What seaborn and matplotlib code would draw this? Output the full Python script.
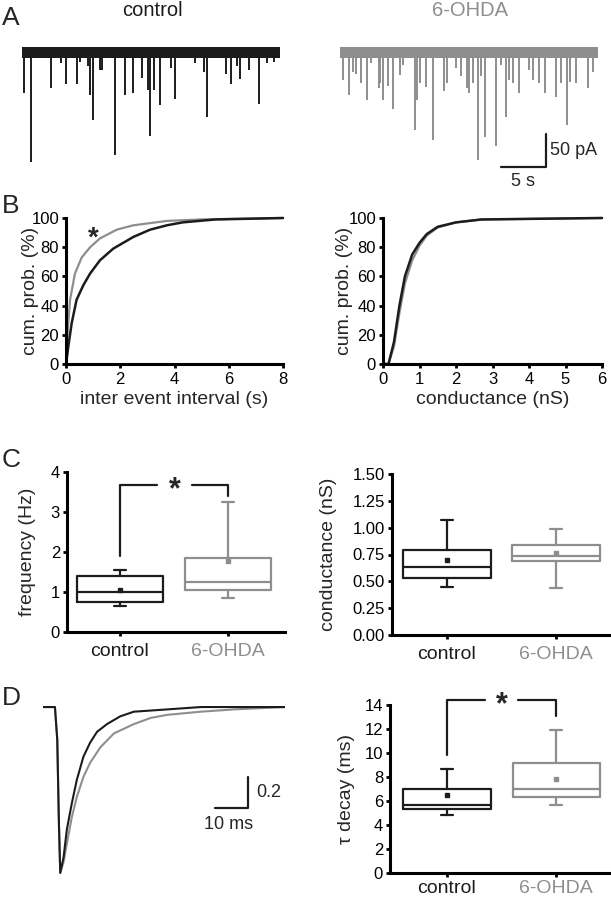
import matplotlib
matplotlib.use('Agg')
import matplotlib.pyplot as plt
import seaborn as sns

sns.set_style('ticks')
plt.rcParams['font.family'] = ['Liberation Sans', 'DejaVu Sans']

BLACK = '#1c1c1c'
GRAY = '#8e8e8e'
W, H = 611, 899

# A: example recordings, event times (s) and amplitudes (pA)
ctrl_times = [0.19, 1.04, 3.2, 4.3, 4.9, 6.1, 6.5, 7.3, 7.6, 7.9, 8.7, 8.9, 10.4, 11.5,
              12.3, 13.4, 14.0, 14.2, 14.7, 15.4, 16.6, 17.0, 19.3, 20.2, 20.6, 22.7,
              23.3, 23.9, 24.3, 25.2, 26.4, 27.2, 28.0]
ctrl_amps = [63, 167, 54, 17, 49, 48, 16, 22, 65, 103, 28, 28, 157, 65,
             63, 40, 58, 127, 58, 81, 25, 72, 17, 30, 99, 33,
             48, 22, 41, 28, 79, 17, 15]
ohda_times = [0.37, 1.04, 1.4, 1.8, 2.3, 3.0, 3.5, 4.3, 4.5, 4.8, 5.3, 5.9, 6.7, 7.0,
              8.3, 8.6, 8.9, 9.6, 10.3, 11.6, 11.9, 12.9, 13.5, 14.1, 14.4, 14.8, 15.3,
              15.7, 16.1, 17.3, 17.9, 18.5, 18.8, 19.3, 19.9, 21.0, 21.5, 22.1, 22.8,
              24.0, 24.6, 25.2, 25.6, 26.3, 27.6, 28.1]
ohda_amps = [43, 65, 30, 33, 47, 73, 17, 55, 47, 73, 52, 86, 35, 20,
             119, 73, 47, 53, 134, 59, 47, 25, 37, 55, 63, 47, 164,
             37, 129, 143, 20, 98, 42, 47, 63, 27, 42, 47, 63,
             68, 47, 111, 45, 47, 55, 30]
trace_len = 28.7   # s
noise = 9          # pA

# B: cumulative distributions
iei_ctrl_x = [0, 0.1, 0.21, 0.39, 0.64, 0.89, 1.25, 1.74, 2.48, 3.1, 3.72, 4.3, 5.5, 8.0]
iei_ctrl_y = [0, 14, 28, 44, 54, 62, 71, 79, 87, 92, 95, 97, 99, 100]
iei_ohda_x = [0, 0.05, 0.15, 0.33, 0.58, 0.89, 1.25, 1.87, 2.48, 3.72, 4.94, 8.0]
iei_ohda_y = [0, 20, 44, 62, 73, 80, 86, 92, 95, 98, 99, 100]
cond_ctrl_x = [0, 0.15, 0.3, 0.45, 0.6, 0.8, 1.0, 1.2, 1.5, 2.0, 2.7, 6.0]
cond_ctrl_y = [0, 0, 15, 40, 60, 75, 83, 89, 94, 97, 99, 100]
cond_ohda_x = [0, 0.15, 0.3, 0.45, 0.6, 0.8, 1.0, 1.2, 1.5, 2.0, 2.7, 6.0]
cond_ohda_y = [0, 0, 12, 35, 55, 71, 81, 88, 93.5, 97, 99, 100]

# C / D: box summaries [whislo, q1, med, q3, whishi, mean]
groups = ['control', '6-OHDA']
freq = [[0.66, 0.76, 1.0, 1.39, 1.55, 1.05], [0.84, 1.04, 1.24, 1.86, 3.25, 1.78]]
cond = [[0.45, 0.53, 0.63, 0.79, 1.07, 0.70], [0.44, 0.69, 0.74, 0.84, 0.99, 0.76]]
tau = [[4.8, 5.3, 5.7, 7.0, 8.7, 6.5], [5.7, 6.3, 7.0, 9.2, 11.9, 7.8]]

# D: averaged normalised events
avg_ctrl_t = [0, 3.6, 4.3, 4.8, 5.2, 6.2, 7.2, 8.7, 10.2, 12.2, 14.2, 16.3, 19.3, 23.3,
              27.4, 37.6, 47.6, 73]
avg_ctrl_y = [0, 0, -0.21, -0.75, -1.07, -0.97, -0.79, -0.62, -0.47, -0.32, -0.23, -0.16,
              -0.11, -0.06, -0.03, -0.015, 0, 0]
avg_ohda_t = [0, 3.6, 4.3, 4.8, 5.2, 6.2, 7.2, 8.7, 10.2, 12.2, 14.2, 17.3, 21.4, 27.4,
              32.5, 37.6, 47.6, 57.8, 73]
avg_ohda_y = [0, 0, -0.21, -0.75, -1.07, -1.0, -0.88, -0.71, -0.58, -0.45, -0.36, -0.26,
              -0.17, -0.11, -0.07, -0.05, -0.03, -0.015, 0]

fig = plt.figure(figsize=(6.11, 8.99), dpi=100)


def add_ax(l, t, r, b):
    return fig.add_axes([l / W, 1 - b / H, (r - l) / W, (b - t) / H])


def style(ax):
    sns.despine(ax=ax)
    for s in ['left', 'bottom']:
        ax.spines[s].set_linewidth(2.2)
        ax.spines[s].set_color('black')
    ax.tick_params(length=3, width=2, labelsize=12, pad=2, colors='black')


# panel letters
for letter, y in [('A', 25), ('B', 213), ('C', 467), ('D', 705)]:
    fig.text(2 / W, 1 - y / H, letter, fontsize=19, va='baseline', ha='left')

# ---- A
for left, times, amps, col, name in [(22, ctrl_times, ctrl_amps, BLACK, 'control'),
                                     (340, ohda_times, ohda_amps, GRAY, '6-OHDA')]:
    ax = add_ax(left, 40, left + 258, 170)
    ax.fill_between([0, trace_len], [-noise, -noise], [noise - 1, noise - 1], color=col, lw=0)
    ax.vlines(times, 0, [-a for a in amps], color=col, lw=1.4)
    ax.set_xlim(0, trace_len)
    ax.set_ylim(-179, 18)
    ax.axis('off')
    fig.text((left + 130) / W, 1 - 16 / H, name, color=col, fontsize=14.5, ha='center', va='baseline')
    if name == '6-OHDA':
        ax.plot([17.9, 22.9, 22.9], [-174, -174, -124], color=BLACK, lw=1.6, clip_on=False)
        ax.text(23.4, -150, '50 pA', fontsize=13, va='center', ha='left')
        ax.text(20.4, -184, '5 s', fontsize=13, va='top', ha='center')

# ---- B
axb1 = add_ax(66, 218, 283, 364)
sns.lineplot(x=iei_ohda_x, y=iei_ohda_y, ax=axb1, color=GRAY, lw=1.6, clip_on=False)
sns.lineplot(x=iei_ctrl_x, y=iei_ctrl_y, ax=axb1, color=BLACK, lw=1.8, clip_on=False)
axb1.set_xlim(0, 8)
axb1.set_xticks([0, 2, 4, 6, 8])
axb1.text(1.0, 86, '*', fontsize=20, ha='center', va='center', fontweight='bold')
axb1.set_xlabel('inter event interval (s)', fontsize=14)

axb2 = add_ax(383, 218, 602, 364)
sns.lineplot(x=cond_ohda_x, y=cond_ohda_y, ax=axb2, color=GRAY, lw=1.6, clip_on=False)
sns.lineplot(x=cond_ctrl_x, y=cond_ctrl_y, ax=axb2, color=BLACK, lw=1.8, clip_on=False)
axb2.set_xlim(0, 6)
axb2.set_xticks(range(7))
axb2.set_xlabel('conductance (nS)', fontsize=14)

for ax, yl in [(axb1, -0.125), (axb2, -0.135)]:
    ax.set_ylim(0, 100)
    ax.set_yticks([0, 20, 40, 60, 80, 100])
    ax.set_ylabel('cum. prob. (%)', fontsize=14)
    style(ax)
    ax.tick_params(axis='x', pad=3)
    ax.yaxis.set_label_coords(yl, 0.5)
    ax.xaxis.set_label_coords(0.5, -0.185)


# ---- C / D boxes
def boxes(ax, stats, pad):
    for i, (s, col) in enumerate(zip(stats, [BLACK, GRAY])):
        d = dict(whislo=s[0], q1=s[1], med=s[2], q3=s[3], whishi=s[4], mean=s[5])
        ax.bxp([d], positions=[i], widths=0.8, capwidths=0.11, showmeans=True,
               showfliers=False, manage_ticks=False,
               boxprops=dict(color=col, lw=1.6), whiskerprops=dict(color=col, lw=1.6),
               capprops=dict(color=col, lw=1.6), medianprops=dict(color=col, lw=1.6),
               meanprops=dict(marker='s', markersize=3.5, markerfacecolor=col,
                              markeredgecolor=col))
    style(ax)
    ax.set_xticks([0, 1])
    ax.set_xticklabels(groups, fontsize=14)
    ax.tick_params(axis='x', labelsize=14, pad=pad)
    ax.get_xticklabels()[0].set_color(BLACK)
    ax.get_xticklabels()[1].set_color(GRAY)


def bracket(ax, y0, ytop, y1, gap, star_y):
    ax.plot([0, 0, gap[0]], [y0, ytop, ytop], color=BLACK, lw=1.6, clip_on=False)
    ax.plot([gap[1], 1, 1], [ytop, ytop, y1], color=BLACK, lw=1.6, clip_on=False)
    ax.text(sum(gap) / 2, star_y, '*', fontsize=22, ha='center', va='center', fontweight='bold')


axc1 = add_ax(67, 472, 285, 632)
boxes(axc1, freq, 5)
axc1.set_xlim(-0.49, 1.53)
axc1.set_ylim(0, 4)
axc1.set_yticks([0, 1, 2, 3, 4])
axc1.set_ylabel('frequency (Hz)', fontsize=14)
axc1.yaxis.set_label_coords(-0.14, 0.5)
bracket(axc1, 1.9, 3.68, 3.4, (0.34, 0.67), 3.55)

axc2 = add_ax(392, 474, 611, 635)
boxes(axc2, cond, 5)
axc2.set_xlim(-0.5, 1.5)
axc2.set_ylim(0, 1.5)
axc2.set_yticks([0, 0.25, 0.5, 0.75, 1.0, 1.25, 1.5])
axc2.set_yticklabels(['0.00', '0.25', '0.50', '0.75', '1.00', '1.25', '1.50'])
axc2.set_ylabel('conductance (nS)', fontsize=14)
axc2.yaxis.set_label_coords(-0.25, 0.5)

axd2 = add_ax(390, 705, 611, 873)
boxes(axd2, tau, 2)
axd2.set_xlim(-0.52, 1.5)
axd2.set_ylim(0, 14)
axd2.set_yticks(range(0, 15, 2))
axd2.set_ylabel('\u03c4 decay (ms)', fontsize=14)
axd2.yaxis.set_label_coords(-0.16, 0.5)
bracket(axd2, 9.84, 14.4, 13.1, (0.35, 0.65), 14.0)

# ---- D traces
axd1 = add_ax(43, 690, 285, 880)
sns.lineplot(x=avg_ohda_t, y=avg_ohda_y, ax=axd1, color=GRAY, lw=1.5)
sns.lineplot(x=avg_ctrl_t, y=avg_ctrl_y, ax=axd1, color=BLACK, lw=1.5)
axd1.plot([51.8, 61.8, 61.8], [-0.65, -0.65, -0.45], color=BLACK, lw=1.6)
axd1.text(64.2, -0.55, '0.2', fontsize=13, va='center', ha='left')
axd1.text(55.9, -0.755, '10 ms', fontsize=13, va='center', ha='center')
axd1.set_xlim(0, 73)
axd1.set_ylim(-1.116, 0.11)
axd1.axis('off')

fig.savefig('out.png', dpi=100)
